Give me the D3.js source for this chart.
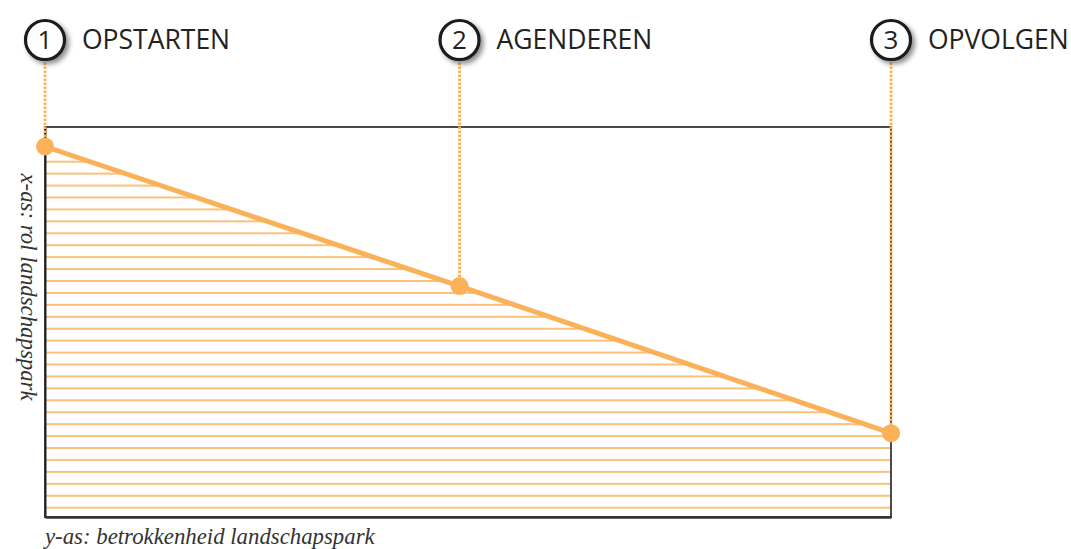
<!DOCTYPE html>
<html>
<head>
<meta charset="utf-8">
<script src="https://cdn.jsdelivr.net/npm/d3@7"></script>
<style>
  body { margin: 0; background: #fff; }
</style>
</head>
<body>
<div id="chart"></div>
<script>
// data: fases en rol van het landschapspark
const stageNames = ["OPSTARTEN", "AGENDEREN", "OPVOLGEN"];
const stageNumbers = ["1", "2", "3"];
const stageX = [0, 49, 100];          // positie op de betrokkenheid-as (0-100)
const roleValues = [95, 59.2, 21.5];   // rol landschapspark (0-100)
const xLabel = "y-as: betrokkenheid landschapspark";
const yLabel = "x-as: rol landschapspark";

const width = 1071, height = 549;
const frame = { left: 45, right: 891, top: 127, bottom: 517 };
const orange = "#fbb158";

const svg = d3.select("#chart").append("svg")
  .attr("width", width)
  .attr("height", height);

const defs = svg.append("defs");

// schaduw onder de cirkels
const shadow = defs.append("filter").attr("id", "shadow")
  .attr("x", "-50%").attr("y", "-50%").attr("width", "200%").attr("height", "200%");
shadow.append("feDropShadow")
  .attr("dx", 3).attr("dy", 3).attr("stdDeviation", 2.5)
  .attr("flood-color", "#000").attr("flood-opacity", 0.45);

// arcering
const step = 11.93;
const hatch = defs.append("pattern").attr("id", "hatch")
  .attr("patternUnits", "userSpaceOnUse")
  .attr("x", 0).attr("y", 161.7 - step / 2)
  .attr("width", 20).attr("height", step);
hatch.append("line")
  .attr("x1", 0).attr("x2", 20)
  .attr("y1", step / 2).attr("y2", step / 2)
  .attr("stroke", "#fcc07a").attr("stroke-width", 2);

// schalen
const x = d3.scaleLinear().domain([0, 100]).range([frame.left, frame.right]);
const y = d3.scaleLinear().domain([0, 100]).range([frame.bottom, frame.top]);

const pts = stageX.map((v, i) => ({ x: v, y: roleValues[i], name: stageNames[i], num: stageNumbers[i] }));

// gearceerde vlak onder de lijn
svg.append("path")
  .datum(pts)
  .attr("fill", "url(#hatch)")
  .attr("d", d3.area().x(d => x(d.x)).y0(y(0)).y1(d => y(d.y)));

// kader
svg.append("rect")
  .attr("x", x(0)).attr("y", y(100))
  .attr("width", x(100) - x(0)).attr("height", y(0) - y(100))
  .attr("fill", "none").attr("stroke", "#4a4a4a").attr("stroke-width", 2);

svg.append("g")
  .attr("transform", `translate(${x(0)},0)`)
  .call(d3.axisLeft(y).ticks(0).tickSize(0))
  .call(g => g.select(".domain").attr("stroke", "#222").attr("stroke-width", 2));

svg.append("g")
  .attr("transform", `translate(0,${y(0)})`)
  .call(d3.axisBottom(x).ticks(0).tickSize(0))
  .call(g => g.select(".domain").attr("stroke", "#333").attr("stroke-width", 2.5));

// stippellijnen van cirkel naar punt
const circleY = 40, r = 19.5;
svg.selectAll(".drop")
  .data(pts)
  .enter()
  .append("line")
  .attr("class", "drop")
  .attr("x1", d => x(d.x)).attr("x2", d => x(d.x))
  .attr("y1", circleY + r + 3).attr("y2", d => y(d.y))
  .attr("stroke", orange).attr("stroke-width", 2.8)
  .attr("stroke-dasharray", "2.4,1.6");

// lijn
svg.append("path")
  .datum(pts)
  .attr("fill", "none")
  .attr("stroke", orange)
  .attr("stroke-width", 5)
  .attr("d", d3.line().x(d => x(d.x)).y(d => y(d.y)));

// punten
svg.selectAll(".dot")
  .data(pts)
  .enter()
  .append("circle")
  .attr("class", "dot")
  .attr("cx", d => x(d.x)).attr("cy", d => y(d.y))
  .attr("r", 9)
  .attr("fill", orange);

// genummerde cirkels + titels
const heads = svg.selectAll(".head")
  .data(pts)
  .enter()
  .append("g")
  .attr("class", "head")
  .attr("transform", d => `translate(${x(d.x)},${circleY})`);

heads.append("circle")
  .attr("r", r)
  .attr("fill", "#fff")
  .attr("stroke", "#1a1a1a")
  .attr("stroke-width", 3.2)
  .attr("filter", "url(#shadow)");

heads.append("text")
  .attr("text-anchor", "middle")
  .attr("y", 9)
  .attr("font-family", "Open Sans, sans-serif")
  .attr("font-size", "26px")
  .attr("fill", "#222")
  .text(d => d.num);

heads.append("text")
  .attr("x", 37)
  .attr("y", 9)
  .attr("font-family", "Open Sans, sans-serif")
  .attr("font-size", "26.5px")
  .attr("fill", "#222")
  .text(d => d.name);

// as-labels
svg.append("text")
  .attr("x", frame.left)
  .attr("y", 544)
  .attr("font-family", "Liberation Serif, serif")
  .attr("font-style", "italic")
  .attr("font-size", "22.8px")
  .attr("fill", "#333")
  .text(xLabel);

svg.append("text")
  .attr("transform", "translate(21,287) rotate(90)")
  .attr("text-anchor", "middle")
  .attr("font-family", "Liberation Serif, serif")
  .attr("font-style", "italic")
  .attr("font-size", "22.8px")
  .attr("fill", "#333")
  .text(yLabel);
</script>
</body>
</html>
